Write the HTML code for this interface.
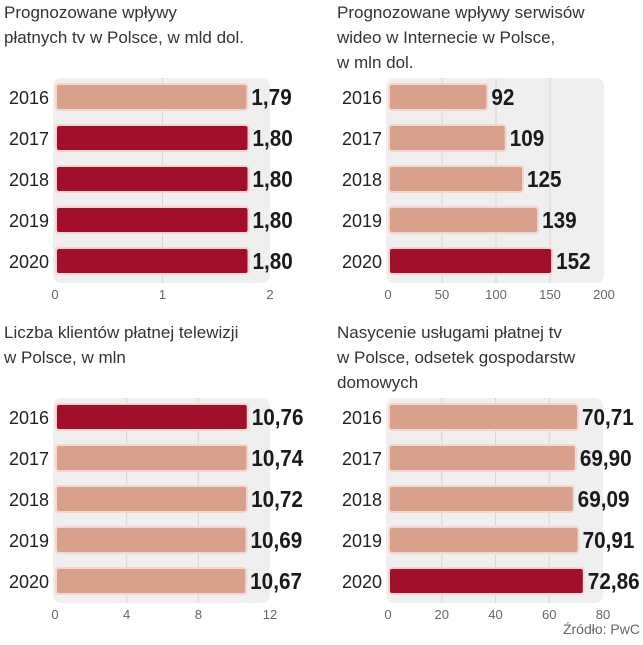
<!DOCTYPE html>
<html><head><meta charset="utf-8"><style>
body{margin:0;background:#fff;width:643px;height:640px;overflow:hidden;font-family:"Liberation Sans",sans-serif}
svg text{font-family:"Liberation Sans",sans-serif}
.t{font-size:17px;fill:#333;font-weight:300}
.y{font-size:18px;fill:#222}
.v{font-weight:bold;font-size:23px;fill:#1a1a1a}
.k{font-size:13px;fill:#666}
</style></head><body>
<svg id="c" width="643" height="640">
<text class="t" x="4" y="18">Prognozowane wpływy</text>
<text class="t" x="4" y="43">płatnych tv w Polsce, w mld dol.</text>
<text class="t" x="337" y="18">Prognozowane wpływy serwisów</text>
<text class="t" x="337" y="43">wideo w Internecie w Polsce,</text>
<text class="t" x="337" y="68">w mln dol.</text>
<text class="t" x="4" y="338">Liczba klientów płatnej telewizji</text>
<text class="t" x="4" y="363">w Polsce, w mln</text>
<text class="t" x="337" y="338">Nasycenie usługami płatnej tv</text>
<text class="t" x="337" y="363">w Polsce, odsetek gospodarstw</text>
<text class="t" x="337" y="388">domowych</text>
<text class="k" x="640" y="634" text-anchor="end" style="font-size:14px">Źródło: PwC</text>
</svg>
<script>
const years=["2016","2017","2018","2019","2020"];
const v1=[1.79,1.80,1.80,1.80,1.80];
const l1=["1,79","1,80","1,80","1,80","1,80"];
const t1=[0,1,2];
const v2=[92,109,125,139,152];
const l2=["92","109","125","139","152"];
const t2=[0,50,100,150,200];
const v3=[10.76,10.74,10.72,10.69,10.67];
const l3=["10,76","10,74","10,72","10,69","10,67"];
const t3=[0,4,8,12];
const v4=[70.71,69.90,69.09,70.91,72.86];
const l4=["70,71","69,90","69,09","70,91","72,86"];
const t4=[0,20,40,60,80];
const h1=[0,1,1,1,1],h2=[0,0,0,0,1],h3=[1,0,0,0,0],h4=[0,0,0,0,1];
const NS="http://www.w3.org/2000/svg";
const svg=document.getElementById('c');
function mk(tag,at){const e=document.createElementNS(NS,tag);for(const k in at)e.setAttribute(k,at[k]);svg.appendChild(e);return e;}
function chart(id,x0,x1,top,vals,labels,ticks,hl){
  const max=ticks[ticks.length-1];
  const sx=v=>x0+(v-0)/max*(x1-x0);
  const p=mk('rect',{x:x0-2,y:top,width:x1-x0+2,height:205,rx:8,fill:'#efefef'});
  
  
  ticks.forEach((t,i)=>{
    if(i>0&&i<ticks.length-1){const g=mk('line',{x1:sx(t),x2:sx(t),y1:top,y2:top+205,stroke:'#d6d6d6','stroke-width':1});
    
    }
    const tx=mk('text',{x:sx(t),y:top+221,'text-anchor':'middle',class:'k'});tx.textContent=t;
    
    
  });
  vals.forEach((v,i)=>{
    const cy=top+19+i*41;
    const r=mk('rect',{x:x0+1,y:cy-13,width:sx(v)-x0-1,height:26,rx:3,fill:hl[i]?'#a10f2b':'#d9a18b',stroke:'#f3d6cf','stroke-width':2});
    
    
    const y=mk('text',{x:x0-6,y:cy+7,'text-anchor':'end',class:'y'});y.textContent=years[i];
    
    
    const lx=sx(v)+4;
    const l=mk('text',{x:0,y:cy+8,class:'v',transform:'translate('+lx+',0) scale(0.9,1)'});l.textContent=labels[i];
    
    
  });
}
chart('chart1',55,270,78,v1,l1,t1,h1);
chart('chart2',388,604,78,v2,l2,t2,h2);
chart('chart3',55,270,398,v3,l3,t3,h3);
chart('chart4',388,603,398,v4,l4,t4,h4);
</script>
</body></html>
